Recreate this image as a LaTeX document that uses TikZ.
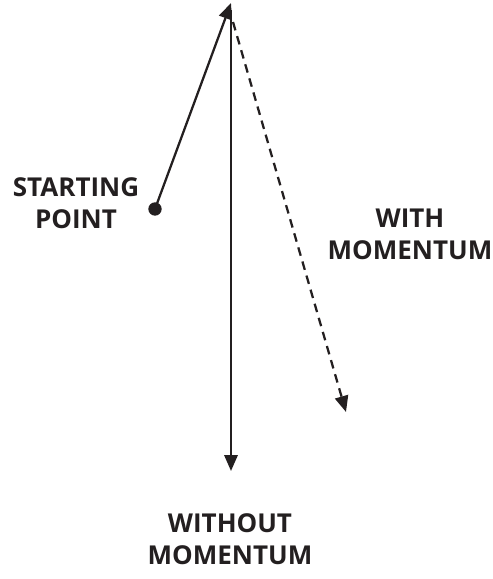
\documentclass[tikz,border=0pt]{standalone}
\usepackage{fontspec}
\setmainfont{Open Sans}
\usepackage{tikz}
\usetikzlibrary{arrows.meta,positioning}
\definecolor{ink}{HTML}{231F20}

\begin{document}
\begin{tikzpicture}[x=0.75pt,y=-0.75pt, every node/.style={font=\fontsize{19.5}{24}\selectfont\bfseries,text=ink,align=center}, dot/.style={circle,fill=ink,inner sep=0pt,minimum size=10pt}, arr/.style={-{Triangle[length=12pt,width=10pt]},line width=1.7pt,draw=ink}, darr/.style={arr,dash pattern=on 6.5pt off 4.5pt}]
\useasboundingbox (0,0) rectangle (493,579);
\node[dot] (start) at (155,209) {};
\coordinate (top) at (231,3);
\coordinate (topv) at (231,10);
\coordinate (topd) at (233,22);
\coordinate (down) at (231,471);
\coordinate (slant) at (346,412);
\node (startlbl) at (76,203) {STARTING\\POINT};
\node (withlbl) at (410,234) {WITH\\MOMENTUM};
\node (withoutlbl) at (230,539) {WITHOUT\\MOMENTUM};
\draw[arr] (start.center)--(top); \draw[arr] (topv)--(down); \draw[darr] (topd)--(slant);
\end{tikzpicture}
\end{document}
